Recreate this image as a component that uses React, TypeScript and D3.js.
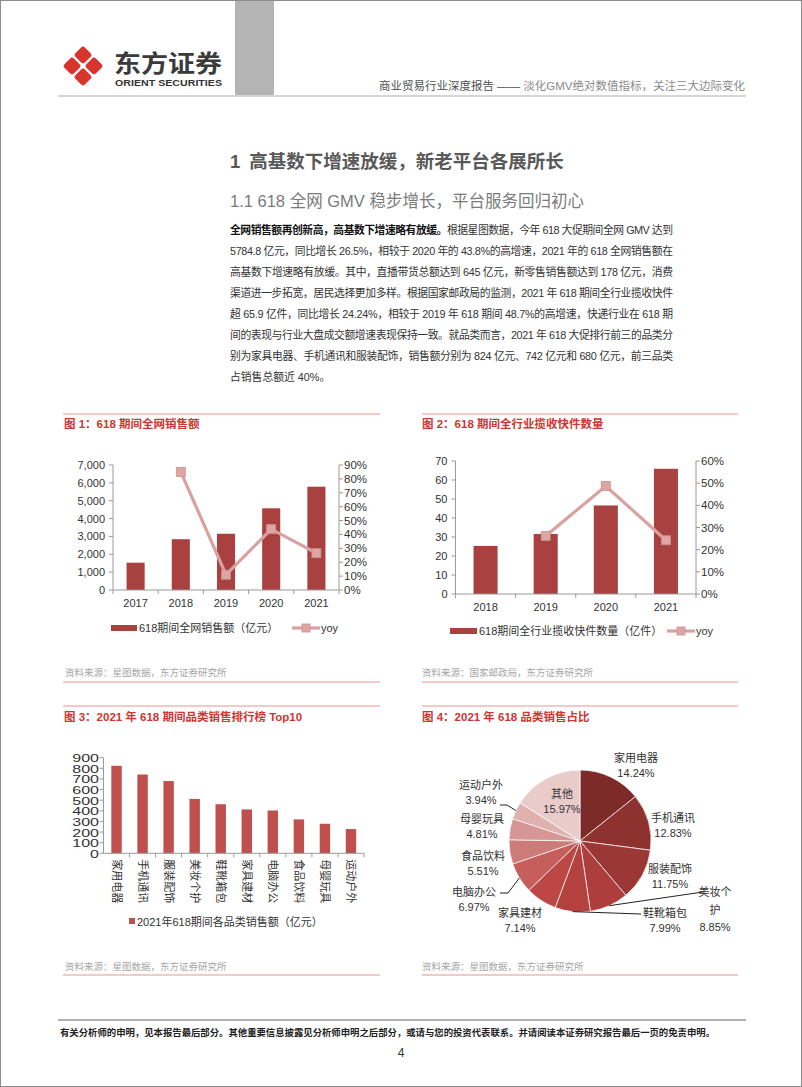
import React from "react"
import * as d3 from "d3"

// ---- data ----
const gmvYears = ["2017", "2018", "2019", "2020", "2021"]
const gmvSales = [1530, 2844, 3150, 4574, 5785]
const gmvYoy: (number | null)[] = [null, 85, 11, 43.8, 26.5]
const gmvTicks = [0, 1000, 2000, 3000, 4000, 5000, 6000, 7000]
const gmvYoyTicks = [0, 10, 20, 30, 40, 50, 60, 70, 80, 90]

const parcelYears = ["2018", "2019", "2020", "2021"]
const parcelCounts = [25.3, 31.6, 46.6, 65.9]
const parcelYoy: (number | null)[] = [null, 26.2, 48.7, 24.24]
const parcelTicks = [0, 10, 20, 30, 40, 50, 60, 70]
const parcelYoyTicks = [0, 10, 20, 30, 40, 50, 60]

const categories = ["家用电器", "手机通讯", "服装配饰", "美妆个护", "鞋靴箱包", "家具建材", "电脑办公", "食品饮料", "母婴玩具", "运动户外"]
const categorySales = [824, 742, 680, 512, 462, 413, 403, 319, 278, 228]
const categoryTicks = [0, 100, 200, 300, 400, 500, 600, 700, 800, 900]

const shareNames = ["家用电器", "手机通讯", "服装配饰", "美妆个护", "鞋靴箱包", "家具建材", "电脑办公", "食品饮料", "母婴玩具", "运动户外", "其他"]
const shares = [14.24, 12.83, 11.75, 8.85, 7.99, 7.14, 6.97, 5.51, 4.81, 3.94, 15.97]

const paragraphLines = [
  "5784.8 亿元，同比增长 26.5%，相较于 2020 年的 43.8%的高增速，2021 年的 618 全网销售额在",
  "高基数下增速略有放缓。其中，直播带货总额达到 645 亿元，新零售销售额达到 178 亿元，消费",
  "渠道进一步拓宽，居民选择更加多样。根据国家邮政局的监测，2021 年 618 期间全行业揽收快件",
  "超 65.9 亿件，同比增长 24.24%，相较于 2019 年 618 期间 48.7%的高增速，快递行业在 618 期",
  "间的表现与行业大盘成交额增速表现保持一致。就品类而言，2021 年 618 大促排行前三的品类分",
  "别为家具电器、手机通讯和服装配饰，销售额分别为 824 亿元、742 亿元和 680 亿元，前三品类",
  "占销售总额近 40%。",
]

// ---- styles ----
const FONT = "'Liberation Sans', Arial, 'Noto Sans CJK SC', sans-serif"
const RED = "#cf3531"
const RULE = "#e39593"
const BAR = "#a8413f"
const BAR3 = "#c0504d"
const YOY = "#d9a1a0"
const AXIS = "#9a9a9a"
const TXT = "#333"
const SOURCE = "#a6a6a6"
const pieColors = ["#7d2b29", "#8e3230", "#9b3835", "#ad3e3b", "#b3413e", "#bc4744", "#c65f5c", "#cd7b78", "#d69695", "#dfb1af", "#e9cbca"]

// label layout for the pie (centre of first text line, optional leader points)
const pieLayout: { x: number; y: number; wrap?: number; gap?: number; leader?: [number, number][] }[] = [
  { x: 636, y: 758 },
  { x: 673, y: 818 },
  { x: 670, y: 869 },
  { x: 715, y: 892, wrap: 3, gap: 17.5, leader: [[703, 892]] },
  { x: 665, y: 913, leader: [[641, 914]] },
  { x: 520, y: 913 },
  { x: 474, y: 892, leader: [[508, 893], [500, 893]] },
  { x: 483, y: 856 },
  { x: 482, y: 819 },
  { x: 481, y: 785, leader: [[507, 805], [500, 805]] },
  { x: 562, y: 794 },
]

const fmtComma = d3.format(",")

function ComboChart(p: {
  years: string[]
  bars: number[]
  yoy: (number | null)[]
  ticks: number[]
  yoyTicks: number[]
  left: number
  right: number
  top: number
  bottom: number
  tickFmt: (v: number) => string
  yearY: number
  legendY: number
  swatch: [number, number]
  legendText: string
  yoyLine: [number, number]
}) {
  const x = d3.scaleBand<string>().domain(p.years).range([p.left, p.right])
  const bw = x.bandwidth() * 0.4
  const y = d3.scaleLinear().domain([0, p.ticks[p.ticks.length - 1]]).range([p.bottom, p.top])
  const y2 = d3.scaleLinear().domain([0, p.yoyTicks[p.yoyTicks.length - 1]]).range([p.bottom, p.top])
  const pts = p.years.map((yr, i) => ({ yr, v: p.yoy[i] })).filter((d) => d.v != null) as { yr: string; v: number }[]
  const line = d3.line<{ yr: string; v: number }>()
    .x((d) => (x(d.yr) as number) + x.bandwidth() / 2)
    .y((d) => y2(d.v))
  const mid = (p.yoyLine[0] + p.yoyLine[1]) / 2
  return (
    <g fontSize={11} fill={TXT}>
      {p.years.map((yr, i) => (
        <rect key={yr} x={(x(yr) as number) + (x.bandwidth() - bw) / 2} y={y(p.bars[i])}
          width={bw} height={p.bottom - y(p.bars[i])} fill={BAR} />
      ))}
      <line x1={p.left} x2={p.left} y1={p.top} y2={p.bottom} stroke={AXIS} />
      <line x1={p.right} x2={p.right} y1={p.top} y2={p.bottom} stroke={AXIS} />
      <line x1={p.left} x2={p.right} y1={p.bottom} y2={p.bottom} stroke={AXIS} />
      {p.ticks.map((t) => (
        <g key={t}>
          <line x1={p.left - 4} x2={p.left} y1={y(t)} y2={y(t)} stroke={AXIS} />
          <text x={p.left - 8} y={y(t)} textAnchor="end" dominantBaseline="central">{p.tickFmt(t)}</text>
        </g>
      ))}
      {p.yoyTicks.map((t) => (
        <g key={t}>
          <line x1={p.right} x2={p.right + 4} y1={y2(t)} y2={y2(t)} stroke={AXIS} />
          <text x={p.right + 5} y={y2(t)} dominantBaseline="central" fontSize={11.5}>{t}%</text>
        </g>
      ))}
      {p.years.map((yr, i) => (
        <g key={yr}>
          <line x1={(x(yr) as number) + x.bandwidth()} x2={(x(yr) as number) + x.bandwidth()}
            y1={p.bottom} y2={p.bottom + 4} stroke={AXIS} />
          {i === 0 && <line x1={p.left} x2={p.left} y1={p.bottom} y2={p.bottom + 4} stroke={AXIS} />}
          <text x={(x(yr) as number) + x.bandwidth() / 2} y={p.yearY} textAnchor="middle" dominantBaseline="central">{yr}</text>
        </g>
      ))}
      <path d={line(pts) || ""} fill="none" stroke={YOY} strokeWidth={3.2} />
      {pts.map((d) => (
        <rect key={d.yr} x={(x(d.yr) as number) + x.bandwidth() / 2 - 4.5} y={y2(d.v) - 4.5}
          width={9} height={9} fill="#dca6a5" stroke="#cf9190" strokeWidth={0.8} />
      ))}
      <rect x={p.swatch[0]} y={p.legendY - 3} width={p.swatch[1] - p.swatch[0]} height={6} fill={BAR} />
      <text x={p.swatch[1] + 2} y={p.legendY} dominantBaseline="central">{p.legendText}</text>
      <line x1={p.yoyLine[0]} x2={p.yoyLine[1]} y1={p.legendY} y2={p.legendY} stroke={YOY} strokeWidth={3.2} />
      <rect x={mid - 4} y={p.legendY - 4} width={8} height={8} fill="#dca6a5" stroke="#cf9190" strokeWidth={0.8} />
      <text x={p.yoyLine[1] + 1} y={p.legendY} dominantBaseline="central">yoy</text>
    </g>
  )
}

function CategoryChart() {
  const left = 103.5, right = 364, top = 757.7, bottom = 853.3
  const x = d3.scaleBand<string>().domain(categories).range([left, right])
  const bw = x.bandwidth() * 0.4
  const y = d3.scaleLinear().domain([0, 900]).range([bottom, top])
  return (
    <g fill={TXT}>
      {categories.map((c, i) => (
        <rect key={c} x={(x(c) as number) + (x.bandwidth() - bw) / 2} y={y(categorySales[i])}
          width={bw} height={bottom - y(categorySales[i])} fill={BAR3} />
      ))}
      <line x1={left} x2={left} y1={top} y2={bottom} stroke={AXIS} />
      <line x1={left} x2={right} y1={bottom} y2={bottom} stroke={AXIS} />
      {categoryTicks.map((t) => {
        const s = String(t)
        return (
          <g key={t}>
            <line x1={left - 4} x2={left} y1={y(t)} y2={y(t)} stroke={AXIS} />
            <text x={left - 4.5} y={y(t) + 0.5} textAnchor="end" dominantBaseline="central" fontSize={11.5}
              textLength={s.length * 8.9} lengthAdjust="spacingAndGlyphs">{s}</text>
          </g>
        )
      })}
      {categories.map((c) => {
        const cx = (x(c) as number) + x.bandwidth() / 2
        return (
          <g key={c}>
            <line x1={(x(c) as number) + x.bandwidth()} x2={(x(c) as number) + x.bandwidth()}
              y1={bottom} y2={bottom + 4} stroke={AXIS} />
            <text transform={`translate(${cx},${bottom + 6}) rotate(90)`} dominantBaseline="central" fontSize={11}>{c}</text>
          </g>
        )
      })}
      <rect x={129} y={918} width={6} height={6} fill={BAR3} />
      <text x={137} y={921.5} dominantBaseline="central" fontSize={11}>2021年618期间各品类销售额（亿元）</text>
    </g>
  )
}

function SharePie() {
  const cx = 580, cy = 841, r = 71
  const arcs = d3.pie<number>().sort(null).value((d) => d)(shares)
  const arc = d3.arc<d3.PieArcDatum<number>>().innerRadius(0).outerRadius(r)
  const edge = d3.arc<d3.PieArcDatum<number>>().innerRadius(r).outerRadius(r)
  return (
    <g fill={TXT} fontSize={11}>
      <g transform={`translate(${cx},${cy})`}>
        {arcs.map((a, i) => (
          <path key={i} d={arc(a) || ""} fill={pieColors[i]} stroke="#fff" strokeWidth={0.7} />
        ))}
      </g>
      {arcs.map((a, i) => {
        const L = pieLayout[i]
        const name = shareNames[i]
        const lines = L.wrap ? [name.slice(0, L.wrap), name.slice(L.wrap)] : [name]
        lines.push(`${shares[i].toFixed(2)}%`)
        const gap = L.gap || 15
        let leader = null
        if (L.leader) {
          const [sx, sy] = edge.centroid(a)
          const ptsArr: [number, number][] = [[cx + sx, cy + sy], ...L.leader]
          leader = <path d={d3.line()(ptsArr) || ""} fill="none" stroke="#222" strokeWidth={1} />
        }
        return (
          <g key={i}>
            {leader}
            {lines.map((t, j) => (
              <text key={j} x={L.x} y={L.y + j * gap} textAnchor="middle" dominantBaseline="central">{t}</text>
            ))}
          </g>
        )
      })}
    </g>
  )
}

function Logo() {
  const cx = 83, cy = 66, o = 11
  const spots: [number, number][] = [[0, -o], [o, 0], [0, o], [-o, 0]]
  return (
    <g>
      {spots.map(([dx, dy], i) => (
        <rect key={i} x={-6.7} y={-6.7} width={13.4} height={13.4} rx={3}
          transform={`translate(${cx + dx},${cy + dy}) rotate(45)`} fill="#d9332e" />
      ))}
      <text x={114} y={61} fontSize={24} fontWeight="bold" fill="#3b3b3b" dominantBaseline="central"
        fontFamily="'Noto Sans CJK SC', sans-serif" textLength={108} lengthAdjust="spacingAndGlyphs">东方证券</text>
      <text x={115} y={83} fontSize={9} fontWeight="bold" fill="#333" dominantBaseline="central"
        textLength={107} lengthAdjust="spacingAndGlyphs">ORIENT SECURITIES</text>
    </g>
  )
}

export default function App() {
  return (
    <svg width={802} height={1087} fontFamily={FONT}
      style={{ position: "absolute", left: 0, top: 0, background: "#fff" }}>
      <rect x={0.5} y={0.5} width={801} height={1086} fill="#fff" stroke="#8c8c8c" />
      {/* header */}
      <rect x={235} y={1} width={39} height={95} fill="#b4b4b4" />
      <Logo />
      <line x1={58} x2={746} y1={96} y2={96} stroke="#d6d6d6" strokeWidth={2} />
      <text x={745} y={86} textAnchor="end" fontSize={11.5} dominantBaseline="central">
        <tspan fill="#505050">商业贸易行业深度报告 —— </tspan>
        <tspan fill="#8a8a8a">淡化GMV绝对数值指标，关注三大边际变化</tspan>
      </text>

      {/* section text */}
      <text x={230} y={161} fontSize={18.5} fontWeight="bold" fill="#595959" dominantBaseline="central">
        <tspan>1</tspan>
        <tspan dx={9}>高基数下增速放缓，新老平台各展所长</tspan>
      </text>
      <text x={230} y={200.5} fontSize={16.5} fill="#7b7b7b" dominantBaseline="central">1.1 618 全网 GMV 稳步增长，平台服务回归初心</text>
      <text x={230} y={230} fontSize={10.8} fill={TXT} dominantBaseline="central" textLength={443} lengthAdjust="spacing">
        <tspan fontWeight="bold" fill="#111">全网销售额再创新高，高基数下增速略有放缓。</tspan>
        <tspan>根据星图数据，今年 618 大促期间全网 GMV 达到</tspan>
      </text>
      {paragraphLines.map((t, i) => (
        <text key={i} x={230} y={230 + (i + 1) * 21} fontSize={10.8} fill={TXT} dominantBaseline="central"
          textLength={i < paragraphLines.length - 1 ? 443 : undefined} lengthAdjust="spacing">{t}</text>
      ))}

      {/* figure headers */}
      {[[63, 380], [422, 738]].map(([a, b]) => (
        <g key={a}>
          <line x1={a} x2={b} y1={414} y2={414} stroke={RULE} strokeWidth={1.2} />
          <line x1={a} x2={b} y1={682} y2={682} stroke={RULE} strokeWidth={1.2} />
          <line x1={a} x2={b} y1={706} y2={706} stroke={RULE} strokeWidth={1.2} />
          <line x1={a} x2={b} y1={975} y2={975} stroke={RULE} strokeWidth={1.2} />
        </g>
      ))}
      <g fontSize={11.5} fontWeight="bold" fill={RED}>
        <text x={64} y={424} dominantBaseline="central">图 1：618 期间全网销售额</text>
        <text x={422} y={424} dominantBaseline="central">图 2：618 期间全行业揽收快件数量</text>
        <text x={64} y={717} dominantBaseline="central">图 3：2021 年 618 期间品类销售排行榜 Top10</text>
        <text x={422} y={717} dominantBaseline="central">图 4：2021 年 618 品类销售占比</text>
      </g>
      <g fontSize={9.5} fill={SOURCE}>
        <text x={65} y={672.5} dominantBaseline="central">资料来源：星图数据，东方证券研究所</text>
        <text x={422} y={672.5} dominantBaseline="central">资料来源：国家邮政局，东方证券研究所</text>
        <text x={65} y={966} dominantBaseline="central">资料来源：星图数据，东方证券研究所</text>
        <text x={422} y={966} dominantBaseline="central">资料来源：星图数据，东方证券研究所</text>
      </g>

      <ComboChart years={gmvYears} bars={gmvSales} yoy={gmvYoy} ticks={gmvTicks} yoyTicks={gmvYoyTicks}
        left={113} right={339} top={465} bottom={590} tickFmt={fmtComma} yearY={602.5}
        legendY={628} swatch={[111, 137]} legendText="618期间全网销售额（亿元）" yoyLine={[292, 320]} />
      <ComboChart years={parcelYears} bars={parcelCounts} yoy={parcelYoy} ticks={parcelTicks} yoyTicks={parcelYoyTicks}
        left={455.5} right={696} top={461} bottom={594} tickFmt={(v) => String(v)} yearY={607}
        legendY={631} swatch={[450, 477]} legendText="618期间全行业揽收快件数量（亿件）" yoyLine={[667, 695]} />
      <CategoryChart />
      <SharePie />

      {/* footer */}
      <line x1={58} x2={746} y1={1020} y2={1020} stroke="#b3b3b3" strokeWidth={2} />
      <text x={60} y={1032} fontSize={9.5} fontWeight="bold" fill="#222" dominantBaseline="central"
        textLength={655} lengthAdjust="spacingAndGlyphs">有关分析师的申明，见本报告最后部分。其他重要信息披露见分析师申明之后部分，或请与您的投资代表联系。并请阅读本证券研究报告最后一页的免责申明。</text>
      <text x={401} y={1053} fontSize={12} fill="#333" textAnchor="middle" dominantBaseline="central">4</text>
    </svg>
  )
}
